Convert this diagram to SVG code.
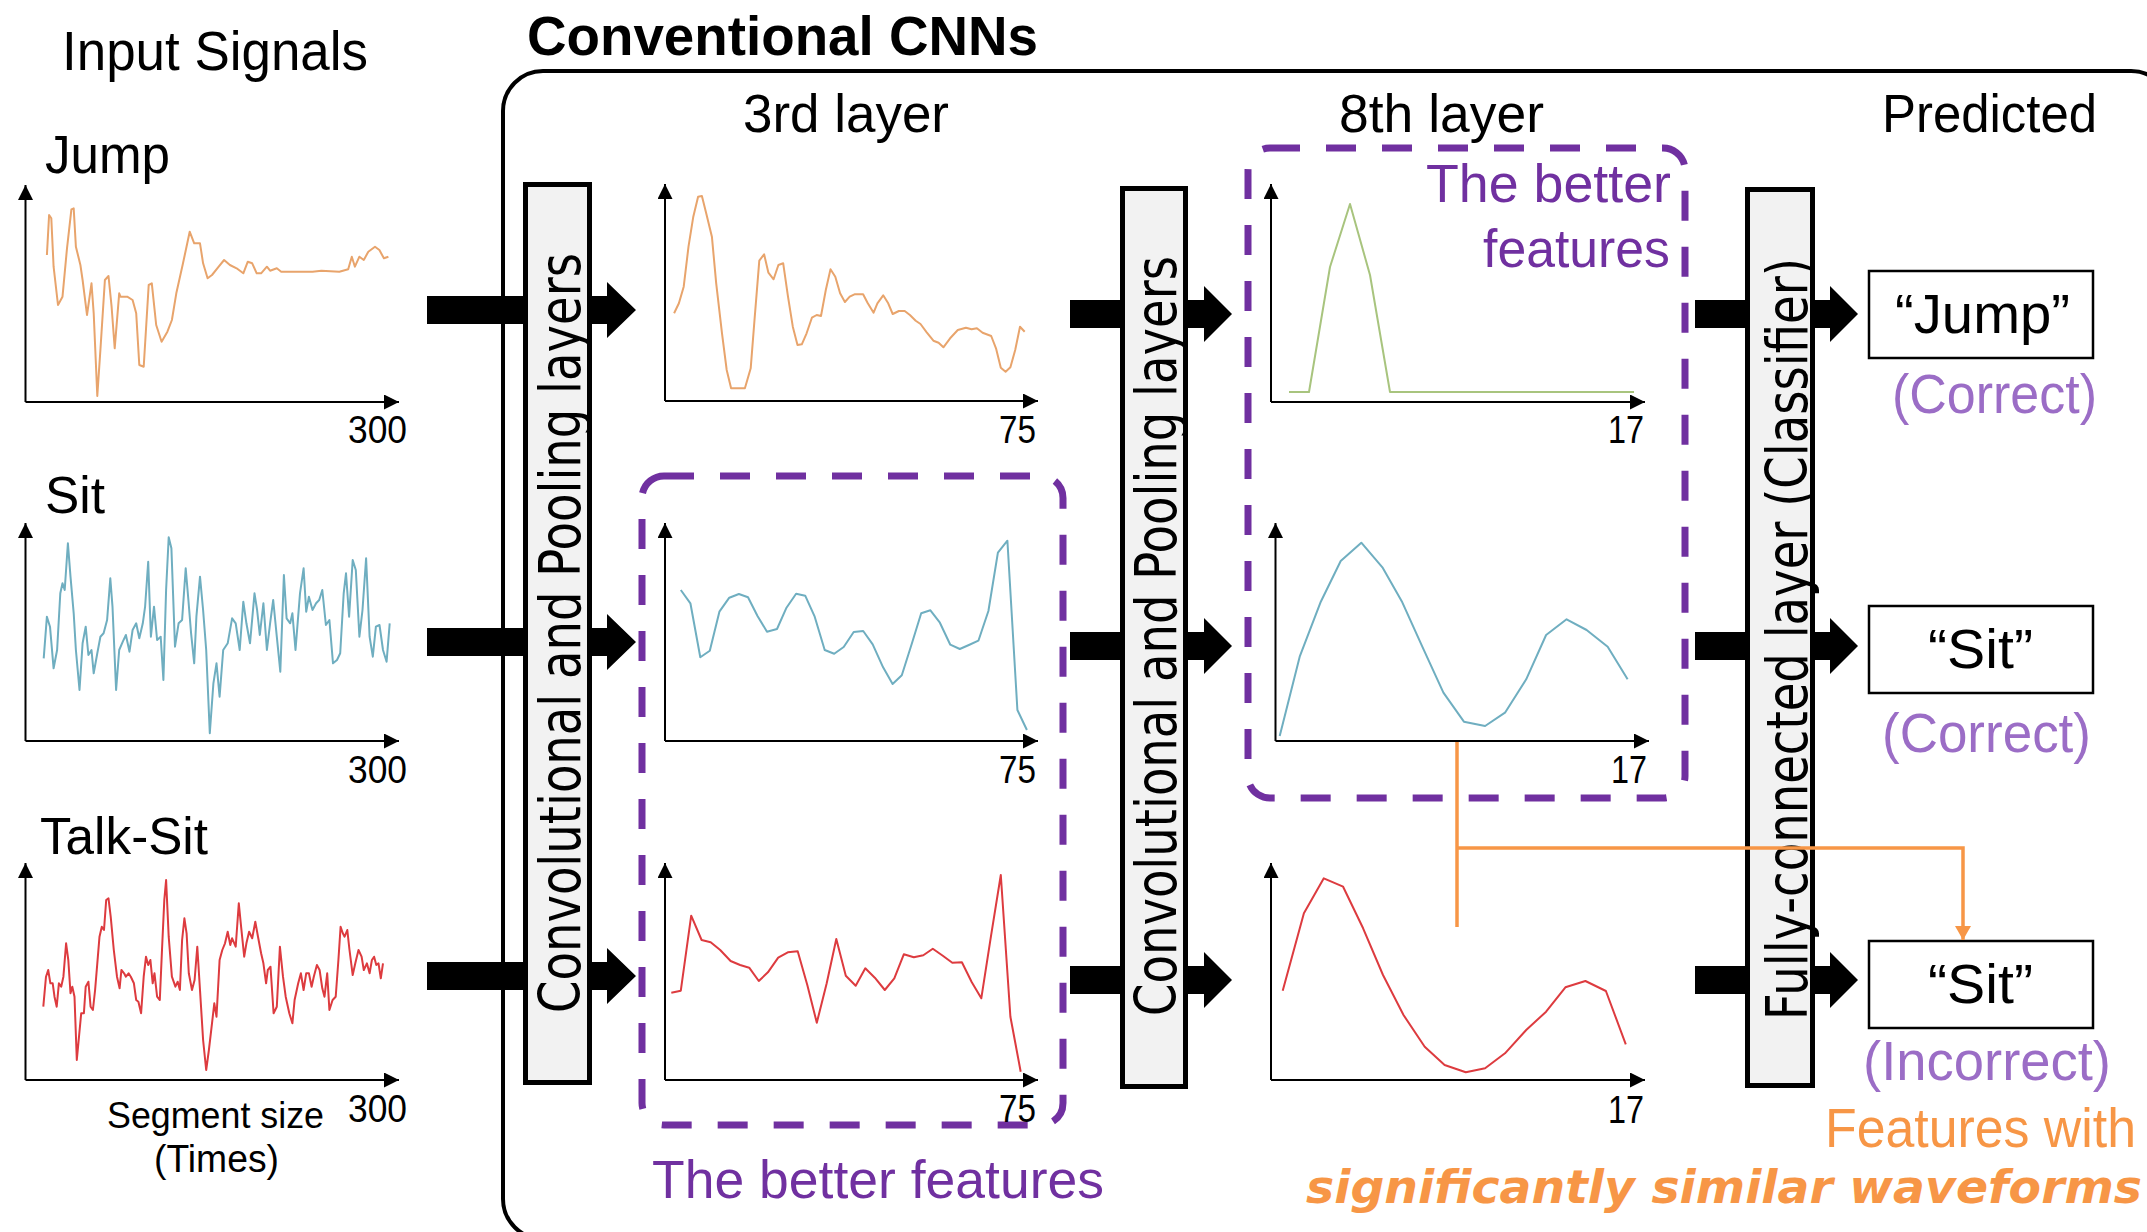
<svg xmlns="http://www.w3.org/2000/svg" width="2147" height="1232" viewBox="0 0 2147 1232">
<style>
.t{font-family:"Liberation Sans",Arial,sans-serif;fill:#000}
.num{font-size:38px;text-anchor:end}
.ax{stroke:#000;stroke-width:2;fill:none;marker-end:url(#ah)}
.sig{fill:none;stroke-width:2;stroke-linejoin:round}
.bar{fill:#F2F2F2;stroke:#000;stroke-width:5}
.bt{font-family:"DejaVu Sans",Verdana,sans-serif;font-size:57px;text-anchor:middle;fill:#000}
.dash{fill:none;stroke:#7030A0;stroke-width:7;stroke-dasharray:30 26}
.out{fill:#fff;stroke:#000;stroke-width:2.5}
.pur{fill:#7030A0;font-family:"Liberation Sans",Arial,sans-serif}
.lpur{fill:#9B6DC6;font-family:"Liberation Sans",Arial,sans-serif}
.org{fill:#F79646}
</style>
<defs>
<marker id="ah" markerUnits="userSpaceOnUse" markerWidth="16" markerHeight="16" refX="15" refY="7.5" orient="auto"><path d="M0,0 L15,7.5 L0,15 z" fill="#000"/></marker>
<marker id="oh" markerUnits="userSpaceOnUse" markerWidth="18" markerHeight="18" refX="14" refY="8" orient="auto"><path d="M0,0 L14,8 L0,16 z" fill="#F79646"/></marker>
</defs>
<rect width="2147" height="1232" fill="#fff"/>

<g id="cnn-frame">
<rect x="503" y="71" width="1668" height="1168" rx="40" fill="none" stroke="#000" stroke-width="4"/>
<text class="t" x="527" y="55" font-size="55" font-weight="bold" textLength="511" lengthAdjust="spacingAndGlyphs">Conventional CNNs</text>
</g>

<g id="headers">
<text class="t" x="62" y="70" font-size="56" textLength="306" lengthAdjust="spacingAndGlyphs">Input Signals</text>
<text class="t" x="743" y="132" font-size="54" textLength="206" lengthAdjust="spacingAndGlyphs">3rd layer</text>
<text class="t" x="1339" y="132" font-size="54" textLength="205" lengthAdjust="spacingAndGlyphs">8th layer</text>
<text class="t" x="1882" y="132" font-size="54" textLength="215" lengthAdjust="spacingAndGlyphs">Predicted</text>
</g>

<g id="input-jump">
<text class="t" x="45" y="173" font-size="53" textLength="125" lengthAdjust="spacingAndGlyphs">Jump</text>
<line class="ax" x1="25.5" y1="402" x2="25.5" y2="185"/>
<line class="ax" x1="25.5" y1="402" x2="399" y2="402"/>
<text class="t num" x="407" y="443" textLength="59" lengthAdjust="spacingAndGlyphs">300</text>
<polyline class="sig" stroke="#E8A46C" points="46.9,255 49.1,215 51.3,218.3 53.6,266.7 58,305 62.5,296.7 67,248.3 71.4,209.3 73.7,208.3 75.9,246.7 80.4,265 82.6,280 87,315 91.5,283.3 93.7,313.3 97.3,396 100.4,350 104.9,280 108.5,276 111.6,306.7 114.7,348.3 119.2,293.3 120.5,296.7 127.2,296.7 132.6,300 136.2,313.3 139.3,365 143.7,366.7 148.7,285 151.8,283.3 156.2,325 161.6,341.7 167.4,331.7 171.9,320 176.3,293.3 183,263.3 189.7,231.7 194.2,243.3 200,243.3 203.1,263.3 207.6,278.3 212,275 218.7,266.7 224.1,260 229.9,265 236.6,268.3 243.3,273.3 247.8,261.7 252.2,263.3 256.7,273.3 261.1,273.3 266.9,266.7 270.1,270.7 276.8,268.3 281.2,271.7 290.2,271.7 312.5,271.7 321.4,270.7 339.3,271.7 348.2,269.3 351.8,256.7 354.9,266.7 359.4,256.7 363.8,260 368.3,251.7 375,246.7 379.4,250 383.9,258.3 388.4,256.7"/>
</g>

<g id="input-sit">
<text class="t" x="45" y="513" font-size="52" textLength="60" lengthAdjust="spacingAndGlyphs">Sit</text>
<line class="ax" x1="25.5" y1="741" x2="25.5" y2="523"/>
<line class="ax" x1="25.5" y1="741" x2="399" y2="741"/>
<text class="t num" x="407" y="783" textLength="59" lengthAdjust="spacingAndGlyphs">300</text>
<polyline class="sig" stroke="#6FAEC0" points="43.7,658.3 46.9,616.7 50,626.7 53.6,668.3 57.1,650 60.3,593.3 62.5,583.3 64.7,590 67.9,543.3 70.5,576.7 73.7,613.3 75.9,650 79.5,690 82.6,643.3 85.7,626.7 88.4,655 91.5,650 93.7,673.3 97.3,653.3 100.4,636.7 103.6,633.3 107.1,620 110.3,578.3 112.5,606.7 116.1,690 119.2,650 122.8,641.7 125.9,635 129.5,651.7 132.6,630 136.2,623.3 139.3,638.3 142.8,623.3 145.1,606.7 148.2,561.7 150.9,636.7 154,606.7 157.1,640 160.7,636.7 163.4,680 166.1,590 168.7,537.3 171.4,548.3 175,646.7 178.6,623.3 182.1,620 185.7,568.3 188.4,600 191.1,633.3 194.2,663.3 196.4,616.7 200,576.7 203.1,610 206.2,650 209.8,733.3 213.4,683.3 216.5,663.3 219.6,696.7 223.2,650 227.7,643.3 232.1,618.3 235.7,623.3 239.7,650 243.3,601.7 246.4,623.3 250,643.3 254.5,593.3 257.1,610 259.8,635 263.4,603.3 266.9,650 270.1,623.3 273.2,600 276.8,636.7 280.3,671.7 283.9,575 286.6,618.3 290.2,623.3 292.4,613.3 295.5,650 300,593.3 303.6,568.3 306.2,611.7 308.9,596.7 312.5,610 316.1,603.3 319.2,600 322.3,590 325.9,625 329.4,620 333,663.3 337,660 340.2,653.3 343.7,593.3 346,573.3 349.1,616.7 352.7,560 355.8,570 359.4,636.7 362.5,610 366.1,558.3 369.6,636.7 372.8,656.7 375.9,626.7 379.5,625 383,650 386.6,661.7 389.7,623.3"/>
</g>

<g id="input-talksit">
<text class="t" x="40" y="854" font-size="52" textLength="168" lengthAdjust="spacingAndGlyphs">Talk-Sit</text>
<line class="ax" x1="25.5" y1="1080" x2="25.5" y2="863"/>
<line class="ax" x1="25.5" y1="1080" x2="399" y2="1080"/>
<text class="t num" x="407" y="1122" textLength="59" lengthAdjust="spacingAndGlyphs">300</text>
<text class="t" x="107" y="1128" font-size="37" textLength="217" lengthAdjust="spacingAndGlyphs">Segment size</text>
<text class="t" x="154" y="1172" font-size="38" textLength="125" lengthAdjust="spacingAndGlyphs">(Times)</text>
<polyline class="sig" stroke="#DD3B3F" points="43.3,1006.7 46,976.7 48.2,970 50.4,983.3 52.7,983.3 54.5,996.7 56.7,1006.7 58.9,983.3 61.2,986.7 63.4,976.7 66.1,943.3 68.3,960 70.5,993.3 72.3,986.7 74.5,996.7 76.8,1060 79,1036.7 81.2,1013.3 83.9,1013.3 85.7,986.7 88.4,981.7 90.6,1006.7 92.9,1010 95.1,990 97.3,963.3 99.5,936.7 101.8,926.7 104,930 106.2,900 108.5,898.3 110.7,916.7 113.8,950 117,976.7 119.6,988.3 121.4,970 124.1,973.3 125.9,976.7 128.6,973.3 130.8,976.7 133.9,983.3 136.2,1000 138.4,1001.7 141.1,1013.3 143.7,976.7 146,956.7 148.2,965 150.4,960 152.7,983.3 154.5,973.3 157.1,996.7 159.8,1000 162,950 164.3,900 166.1,880 168.7,936.7 171.9,976.7 175.4,986.7 177.7,981.7 179.9,990 182.1,940 184.4,918.3 186.6,933.3 188.8,973.3 192,990 194.6,980 197.3,946.7 200,990 203.1,1040 206.2,1070 208.9,1050 212,1023.3 214.3,1003.3 216.5,1016.7 219.6,960 222.3,950 225,943.3 227.7,931.7 230.3,945 232.1,938.3 235.7,946.7 238.8,903.3 241.1,926.7 244.2,956.7 246.4,943.3 249.1,931.7 252.2,938.3 255.3,921.7 258,936.7 261.1,953.3 263.4,963.3 266.1,983.3 267.8,970 270.5,966.7 273.6,1013.3 276.8,1006.7 279.9,946.7 283,976.7 285.7,996.7 289.3,1013.3 292.4,1023.3 294.6,1000 298.2,983.3 300.9,973.3 303.6,990 306.2,973.3 308.9,973.3 311.6,986.7 313.8,976.7 316.9,965 319.6,970 322.3,988.3 324.5,996.7 327.2,973.3 329.4,1010 332.6,1000 335.7,996.7 338.4,960 340.6,926.7 342.8,933.3 344.6,936.7 347.3,930 349.5,950 352.7,975 355.3,963.3 358.5,950 361.6,956.7 363.8,970 366.9,963.3 369.6,973.3 371.9,960 374.1,956.7 376.3,965 378.5,963.3 380.8,978.3 383,963.3"/>
</g>

<g id="conv-pool-1">
<rect class="bar" x="525.5" y="184.5" width="64" height="898"/>
<text class="bt" transform="translate(580,633) rotate(-90)" textLength="760" lengthAdjust="spacingAndGlyphs">Convolutional and Pooling layers</text>
</g>

<g id="layer3-box">
<rect class="dash" x="642" y="476" width="421" height="649" rx="22"/>
<text class="pur" x="652" y="1198" font-size="54" textLength="452" lengthAdjust="spacingAndGlyphs">The better features</text>
</g>

<g id="layer3-jump">
<line class="ax" x1="665" y1="401" x2="665" y2="184"/>
<line class="ax" x1="665" y1="401" x2="1038" y2="401"/>
<text class="t num" x="1036" y="443" textLength="37" lengthAdjust="spacingAndGlyphs">75</text>
<polyline class="sig" stroke="#E8A46C" points="674.1,313.3 678.9,303.3 683.7,286.7 688.5,246.7 693.3,216.7 698.1,196.7 701.9,196 706.2,213.3 711.9,236.7 716.2,283.3 722,333.3 726.7,370 731.1,388.3 744.9,388.3 750.7,368.3 754.5,320 759.3,260.7 764.1,254.3 768.4,272.7 773.6,279.3 778.4,265 783.2,263.3 788,296.7 792.8,326.7 797.5,345 801.8,344.3 806.6,333.3 811.9,317.7 816.7,315 821,316 825.8,290 830.5,269.3 835.3,276.7 840.1,293.3 844.9,302 849.7,296.7 854.5,294.3 863.1,294.3 867.8,303.3 873.6,312.7 877.4,303.3 883.2,295.3 887.9,302.7 892.7,314 898.9,311 904.7,311 909.9,315 915.7,320.7 920.5,324 926.7,332.3 933.4,340.7 938.6,342.7 943.4,347.3 950.1,338.3 957.8,330 965.9,327.7 971.6,329.3 976.9,328.3 982.6,332.7 991.2,336 996,348.3 1000.8,367.7 1005.6,371.7 1010.4,367.3 1015.2,350 1020,326.7 1024.7,331.7"/>
</g>

<g id="layer3-sit">
<line class="ax" x1="665" y1="741" x2="665" y2="523"/>
<line class="ax" x1="665" y1="741" x2="1038" y2="741"/>
<text class="t num" x="1036" y="783" textLength="37" lengthAdjust="spacingAndGlyphs">75</text>
<polyline class="sig" stroke="#6FAEC0" points="680.8,590 690.4,603.3 700.3,657.3 709.8,650.7 719.4,611.7 729.3,597.7 738.9,594 748,597.3 757.5,616 767,631.7 777,629 786.5,607.7 796.1,593.7 805.2,595.7 814.7,616.7 824.7,650 834.2,653.7 843.7,647 853.7,632 863.2,631 872.7,644.3 883.1,667.3 892.6,684 901.8,675.3 911.7,644 921.2,613.3 930.4,610.3 939.9,622.7 950.3,644.7 959.8,649 968.9,645 978.4,640.7 988.4,611 997.9,552.7 1007.4,540.7 1017.4,710 1026.9,730"/>
</g>

<g id="layer3-talksit">
<line class="ax" x1="665" y1="1080" x2="665" y2="863"/>
<line class="ax" x1="665" y1="1080" x2="1038" y2="1080"/>
<text class="t num" x="1036" y="1122" textLength="37" lengthAdjust="spacingAndGlyphs">75</text>
<polyline class="sig" stroke="#DD3B3F" points="671.3,992.7 680.8,990.7 691.2,915.7 701.6,940 710.7,942.3 720.2,950 730.6,961 740.1,965 749.2,967.7 758.8,981 767.9,972.3 778.2,957.7 787.8,952.3 797.7,951.3 807.3,985 816.8,1022.7 826.7,983.3 836.3,939 845.8,975.7 855.7,985.7 865.3,968.3 874.8,977.7 884.8,990 894.3,978.3 903.8,954.3 913.8,957.3 923.3,955.3 932.8,948.7 942.8,955.7 952.3,962.7 961.9,962.3 971.8,982.3 981.3,998.3 990.9,936.7 1000.8,875 1010.4,1016.7 1020.7,1071.7"/>
</g>

<g id="conv-pool-2">
<rect class="bar" x="1122.5" y="188.5" width="63" height="898"/>
<text class="bt" transform="translate(1176,636) rotate(-90)" textLength="760" lengthAdjust="spacingAndGlyphs">Convolutional and Pooling layers</text>
</g>

<g id="layer8-box">
<rect class="dash" x="1248" y="148" width="437" height="650" rx="22"/>
<text class="pur" x="1426" y="202" font-size="54" textLength="245" lengthAdjust="spacingAndGlyphs">The better</text>
<text class="pur" x="1483" y="267" font-size="54" textLength="187" lengthAdjust="spacingAndGlyphs">features</text>
</g>

<g id="layer8-jump">
<line class="ax" x1="1271" y1="402" x2="1271" y2="184"/>
<line class="ax" x1="1271" y1="402" x2="1645" y2="402"/>
<text class="t num" x="1644" y="443" textLength="36" lengthAdjust="spacingAndGlyphs">17</text>
<polyline class="sig" stroke="#A8C47E" points="1289,392 1309,392 1330,267 1350,204 1370,275 1390,392 1634,392"/>
</g>

<g id="layer8-sit">
<line class="ax" x1="1275.5" y1="741" x2="1275.5" y2="523"/>
<line class="ax" x1="1275.5" y1="741" x2="1649" y2="741"/>
<text class="t num" x="1647" y="783" textLength="36" lengthAdjust="spacingAndGlyphs">17</text>
<polyline class="sig" stroke="#6FAEC0" points="1279.7,736 1299.7,656.7 1320.8,601.7 1340.7,561 1361.3,542.7 1382.4,567.3 1402.3,602.3 1422.3,646.7 1443.4,692.7 1463.9,721.7 1485.1,726 1505,712.7 1526.2,679.3 1546.1,635 1566.6,619.3 1586.6,630 1607.7,646.7 1627.6,679.3"/>
</g>

<g id="layer8-talksit">
<line class="ax" x1="1271" y1="1080" x2="1271" y2="863"/>
<line class="ax" x1="1271" y1="1080" x2="1645" y2="1080"/>
<text class="t num" x="1644" y="1123" textLength="36" lengthAdjust="spacingAndGlyphs">17</text>
<polyline class="sig" stroke="#DD3B3F" points="1282.7,990.7 1303.9,913.3 1323.8,878.3 1343.1,886.7 1363.1,928.3 1383,975 1403.5,1015 1424.7,1046.7 1444.6,1065 1465.8,1072.3 1485.1,1068.3 1505,1053.3 1526.2,1030 1546.1,1011.7 1565.4,987.3 1585.4,981 1605.9,991 1625.8,1044.3"/>
</g>

<g id="fc-classifier">
<rect class="bar" x="1747.5" y="189.5" width="65" height="896"/>
<text class="bt" transform="translate(1807,639) rotate(-90)" textLength="762" lengthAdjust="spacingAndGlyphs">Fully-connected layer (Classifier)</text>
</g>

<g id="out-jump">
<rect class="out" x="1869" y="271" width="224" height="87"/>
<text class="t" x="1895" y="333" font-size="55" textLength="175" lengthAdjust="spacingAndGlyphs">“Jump”</text>
<text class="lpur" x="1892" y="413" font-size="55" textLength="205" lengthAdjust="spacingAndGlyphs">(Correct)</text>
</g>

<g id="out-sit">
<rect class="out" x="1869" y="606" width="224" height="87"/>
<text class="t" x="1928" y="668" font-size="55" textLength="105" lengthAdjust="spacingAndGlyphs">“Sit”</text>
<text class="lpur" x="1882" y="752" font-size="55" textLength="209" lengthAdjust="spacingAndGlyphs">(Correct)</text>
</g>

<g id="out-talksit">
<rect class="out" x="1869" y="941" width="224" height="87"/>
<text class="t" x="1928" y="1003" font-size="55" textLength="105" lengthAdjust="spacingAndGlyphs">“Sit”</text>
<text class="lpur" x="1863" y="1080" font-size="55" textLength="248" lengthAdjust="spacingAndGlyphs">(Incorrect)</text>
<text class="org" font-family="Liberation Sans,Arial,sans-serif" x="1825" y="1147" font-size="55" textLength="311" lengthAdjust="spacingAndGlyphs">Features with</text>
<text class="org" font-family="DejaVu Sans,Verdana,sans-serif" x="1306" y="1203" font-size="46" font-weight="bold" font-style="italic" textLength="836" lengthAdjust="spacingAndGlyphs">significantly similar waveforms</text>
</g>

<g id="connectors" fill="#000">
<polygon points="427,296 525,296 525,324 427,324"/>
<polygon points="590,296 607,296 607,282 636,310 607,338 607,324 590,324"/>
<polygon points="427,628 525,628 525,656 427,656"/>
<polygon points="590,628 607,628 607,614 636,642 607,670 607,656 590,656"/>
<polygon points="427,962 525,962 525,990 427,990"/>
<polygon points="590,962 607,962 607,948 636,976 607,1004 607,990 590,990"/>
<polygon points="1070,300 1122,300 1122,328 1070,328"/>
<polygon points="1186,300 1204,300 1204,286 1232,314 1204,342 1204,328 1186,328"/>
<polygon points="1070,632 1122,632 1122,660 1070,660"/>
<polygon points="1186,632 1204,632 1204,618 1232,646 1204,674 1204,660 1186,660"/>
<polygon points="1070,966 1122,966 1122,994 1070,994"/>
<polygon points="1186,966 1204,966 1204,952 1232,980 1204,1008 1204,994 1186,994"/>
<polygon points="1695,300 1747,300 1747,328 1695,328"/>
<polygon points="1813,300 1830,300 1830,286 1858,314 1830,342 1830,328 1813,328"/>
<polygon points="1695,632 1747,632 1747,660 1695,660"/>
<polygon points="1813,632 1830,632 1830,618 1858,646 1830,674 1830,660 1813,660"/>
<polygon points="1695,966 1747,966 1747,994 1695,994"/>
<polygon points="1813,966 1830,966 1830,952 1858,980 1830,1008 1830,994 1813,994"/>
<path d="M1457,742 V927" fill="none" stroke="#F79646" stroke-width="3.5"/>
<path d="M1457,848 H1963 V940" fill="none" stroke="#F79646" stroke-width="3.5" marker-end="url(#oh)"/>
</g>
</svg>
